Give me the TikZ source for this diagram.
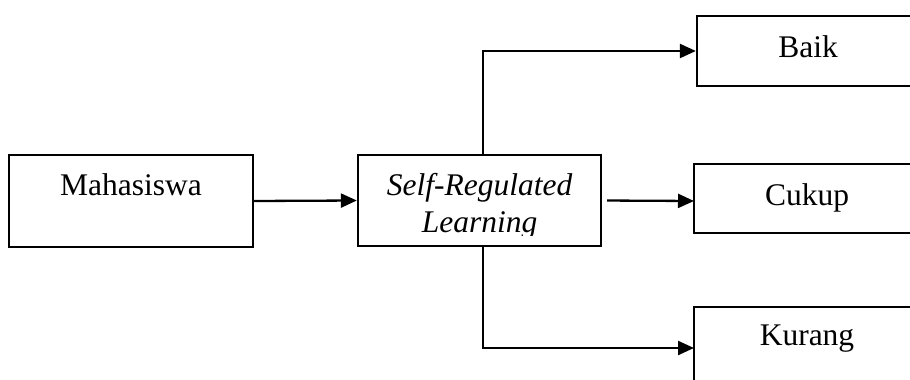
\documentclass[tikz,border=0pt]{standalone}
\usepackage{fontspec}
\setmainfont{Liberation Serif}
\usetikzlibrary{arrows.meta}
\begin{document}
\begin{tikzpicture}[x=1pt,y=-1pt,
  box/.style={draw,line width=2.3pt,inner sep=0pt,minimum width=#1},
  lbl/.style={anchor=base,inner sep=0pt,font=\fontsize{31.5}{37}\selectfont},
  conn/.style={line width=2.3pt,-{Triangle[length=16pt,width=14pt]}}]
\useasboundingbox (0,0) rectangle (910,380);
\clip (0,0) rectangle (910,380);
% boxes
\node[box=244pt,minimum height=92pt] (mah) at (131,201) {};
\node[box=243pt,minimum height=91pt] (srl) at (479.5,200.5) {};
\node[box=233pt,minimum height=70pt] (baik) at (813.5,51) {};
\node[box=233pt,minimum height=69pt] (cuk) at (810.5,198.5) {};
\node[box=233pt,minimum height=90pt] (kur) at (810.5,352) {};
% labels
\node[lbl] (tmah) at (131,195) {Mahasiswa};
\node[lbl] (tsrl) at (479.5,195) {\itshape Self-Regulated};
\begin{scope}
\clip (358,156) rectangle (601,235);
\node[lbl] (tsrl2) at (479.5,232) {\itshape Learning};
\end{scope}
\node[lbl] (tbaik) at (808,57) {Baik};
\node[lbl] (tcuk) at (807,205) {Cukup};
\node[lbl] (tkur) at (807,345) {Kurang};
% connectors
\coordinate (kurin) at (694,348);
\coordinate (cukin) at (694,201);
\draw[conn] (mah.east) -- (srl.west);
\draw[conn,shorten <=5pt] (srl.east) -- (cukin);
\draw[conn] ([xshift=3.5pt]srl.north) |- (baik.west);
\draw[conn] ([xshift=3.5pt]srl.south) |- (kurin);
\end{tikzpicture}
\end{document}
